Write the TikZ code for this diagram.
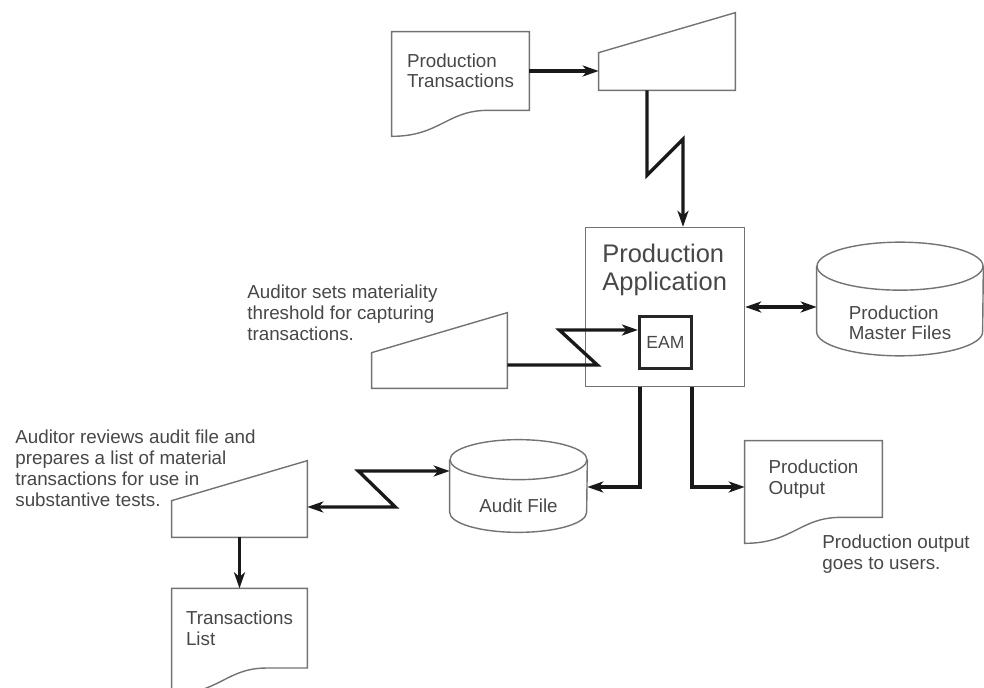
\documentclass[tikz,border=0pt]{standalone}
\usepackage{fontspec}
\setmainfont{Liberation Sans}
\usetikzlibrary{positioning, calc, arrows.meta}

% outlines drawn round an (undrawn) node
\newcommand{\docshape}[1]{%
  \draw[outline] ([yshift=-0.52cm]#1.south west) .. controls ($([yshift=-0.52cm]#1.south west)!0.35!([yshift=-0.52cm]#1.south east)$) and ($(#1.south east)!0.6!(#1.south west)$) .. ($(#1.south east)!0.3!(#1.south west)$) -- (#1.south east) -- (#1.north east) -- (#1.north west) -- cycle;}
\newcommand{\manshape}[1]{%
  \draw[outline] (#1.south west) -- (#1.south east) -- (#1.north east) -- ([yshift=-0.8cm]#1.north west) -- cycle;}
\newcommand{\cylshape}[3]{%
  \draw[outline] ([yshift=#3]#1.north west) -- ([yshift=#3]#1.south west) arc[start angle=180, end angle=360, x radius=#2, y radius=#3] -- ([yshift=#3]#1.north east);
  \draw[outline] ([yshift=#3]#1.north) ellipse[x radius=#2, y radius=#3];}

\begin{document}
\begin{tikzpicture}[x=0.02cm, y=-0.02cm,
      >={Stealth[length=3.2mm, width=2.2mm, inset=0.9mm]},
      shp/.style={inner sep=0, align=left, text=black!72, font=\fontsize{10.7}{11.6}\selectfont},
      outline/.style={draw=black!55, line width=0.8pt},
      conn/.style={draw=black!90, line width=1.9pt, ->},
      note/.style={inner sep=0, anchor=north west, align=left, text=black!72, font=\fontsize{10.7}{11.9}\selectfont}]
    \useasboundingbox (0,0) rectangle (984,688);

    % transactions come in
    \node[shp, minimum width=2.74cm, minimum height=1.56cm] (ptrans) at (460.5,71) {Production\\Transactions};
    \docshape{ptrans}
    \node[shp, minimum width=2.72cm, minimum height=1.54cm] (pin) at (667,51.5) {};
    \manshape{pin}
    \draw[conn] (ptrans.east) -- (ptrans.east -| pin.west);

    % application with the embedded module
    \node[shp, draw=black!55, line width=0.8pt, minimum size=3.18cm] (app) at (665,307) {};
    \node[note, font=\fontsize{14.5}{15.5}\selectfont] (apptitle) at (602,244) {Production\\Application};
    \node[shp, draw=black!85, line width=1.8pt, minimum size=1.04cm, align=center, font=\fontsize{10}{12}\selectfont] (eam) at (665.5,342.5) {EAM};
    \draw[conn] ([xshift=-0.4cm]pin.south) -- ++(0,85) -- ++(36,-36) coordinate (z1) -- (z1 |- app.north);

    \node[shp, minimum width=3.32cm, minimum height=1.3cm] (mfiles) at (900,323) {Production\\Master Files};
    \cylshape{mfiles}{1.66cm}{0.48cm}
    \draw[conn, <->] (app.east) -- (app.east -| mfiles.west);

    % threshold set by the auditor
    \node[shp, minimum width=2.7cm, minimum height=1.5cm] (thresh) at (439.5,350.5) {};
    \manshape{thresh}
    \node[note] (threshnote) at (247,285) {Auditor sets materiality\\threshold for capturing\\transactions.};
    \draw[conn] ([yshift=-0.29cm]thresh.east) -- ++(90,0) -- ++(-38,-35) coordinate (z2) -- (z2 -| eam.west);

    % outputs
    \node[shp, minimum width=2.74cm, minimum height=1.04cm] (audit) at (518.5,506) {Audit File};
    \cylshape{audit}{1.37cm}{0.4cm}
    \draw[conn] ([xshift=-0.5cm]app.south) |- ([yshift=0.38cm]audit.east);

    \node[shp, minimum width=2.74cm, minimum height=1.52cm] (pout) at (813.5,479) {Production\\Output};
    \docshape{pout}
    \draw[conn] ([xshift=0.54cm]app.south) |- ([yshift=-0.16cm]pout.west);
    \node[note] (poutnote) at (822,535) {Production output\\goes to users.};

    % review of the audit file
    \node[shp, minimum width=2.7cm, minimum height=1.52cm] (review) at (239.5,499) {};
    \manshape{review}
    \node[note] (reviewnote) at (15,430) {Auditor reviews audit file and\\prepares a list of material\\transactions for use in\\substantive tests.};
    \draw[conn, <->] ([yshift=-0.16cm]review.east) -- ++(88,0) -- ++(-37,-36) -- ([yshift=0.7cm]audit.west);

    \node[shp, minimum width=2.7cm, minimum height=1.58cm, below=1.02cm of review] (tlist) {Transactions\\List};
    \docshape{tlist}
    \draw[conn] (review.south) -- (tlist.north);
\end{tikzpicture}
\end{document}
